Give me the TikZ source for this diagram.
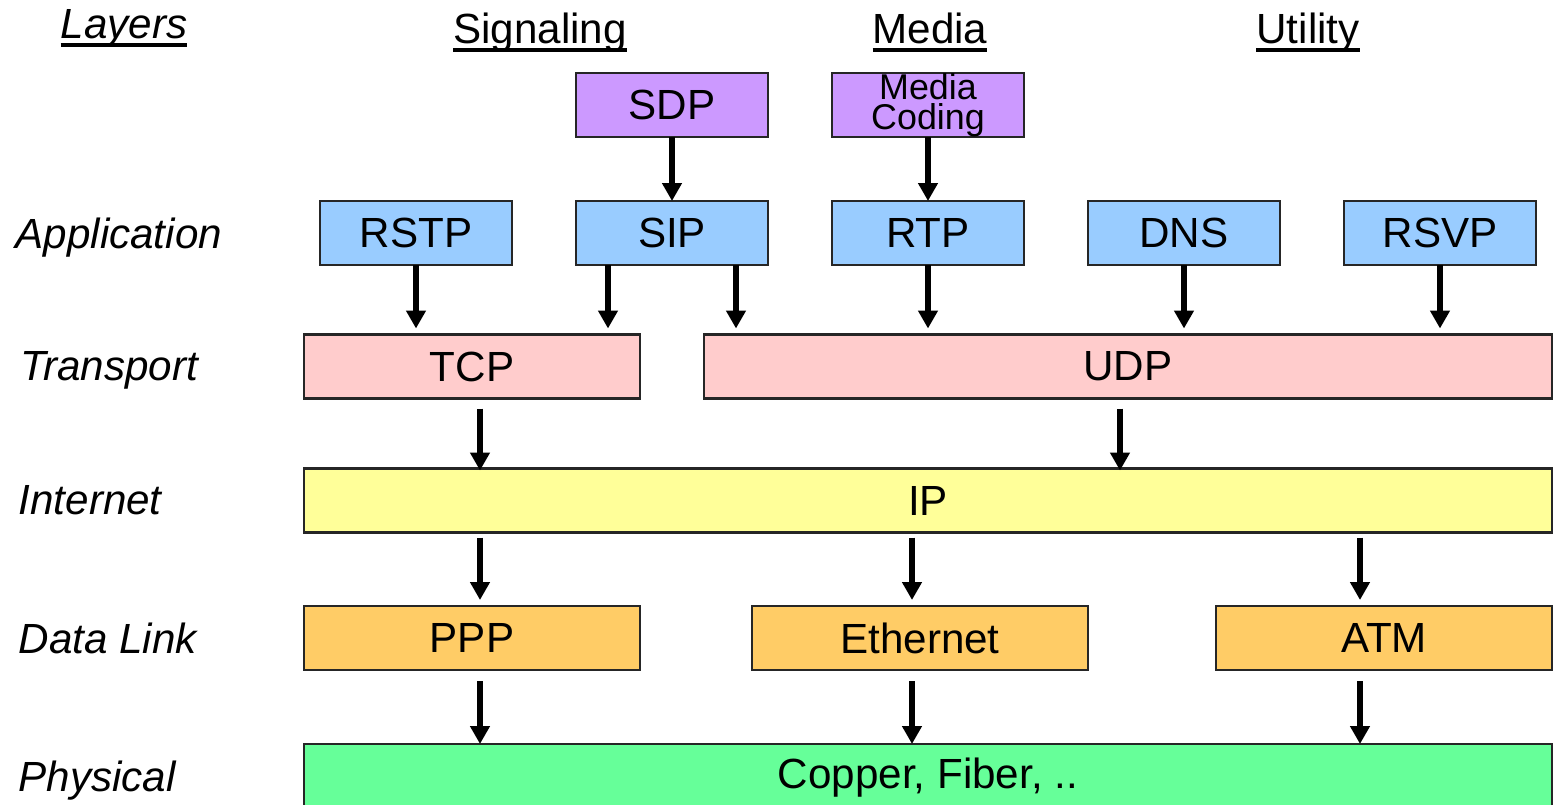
\documentclass[tikz,border=0pt]{standalone}
\usepackage{fontspec}
\setmainfont{Liberation Sans}
\usepackage{tikz}
\usetikzlibrary{positioning,arrows.meta}

\definecolor{codeviolet}{HTML}{CC99FF}
\definecolor{appblue}{HTML}{99CCFF}
\definecolor{transpink}{HTML}{FFCCCC}
\definecolor{ipyellow}{HTML}{FFFF99}
\definecolor{linkorange}{HTML}{FFCC66}
\definecolor{physgreen}{HTML}{66FF99}

\newcommand{\ulined}[1]{\setbox0\hbox{#1}\rlap{\rule[-2.6pt]{\wd0}{1.1pt}}\box0}

\begin{document}
\begin{tikzpicture}[
            node distance=0.64cm,
            proto node/.style={rectangle,draw=black!85,line width=0.6pt,minimum width=1.92cm,minimum height=0.64cm,inner sep=0pt,outer sep=0pt,font=\fontsize{12}{14}\selectfont},
            wide node/.style={proto node,minimum width=3.36cm},
            layer label/.style={anchor=base west,inner sep=0pt,font=\fontsize{12}{14}\selectfont\itshape},
            head label/.style={anchor=base,inner sep=0pt,font=\fontsize{12}{14}\selectfont},
            every edge/.style={draw,line width=1.6pt,-{Triangle[length=0.18cm,width=0.19cm]}},
        ]
            \useasboundingbox (0,0) rectangle (15.58,-8.05);

            \node[head label,font=\fontsize{12}{14}\selectfont\itshape] (layers_hd) at (1.24,-0.38) {\ulined{Layers}};
            \node[head label] (signaling_hd) at (5.40,-0.43) {\ulined{Signaling}};
            \node[head label] (media_hd) at (9.30,-0.43) {\ulined{Media}};
            \node[head label] (utility_hd) at (13.08,-0.43) {\ulined{Utility}};

            \node[layer label] (application_lbl) at (0.15,-2.48) {Application};
            \node[layer label] (transport_lbl) at (0.20,-3.80) {Transport};
            \node[layer label] (internet_lbl) at (0.18,-5.14) {Internet};
            \node[layer label] (datalink_lbl) at (0.18,-6.53) {Data Link};
            \node[layer label] (physical_lbl) at (0.18,-7.91) {Physical};

            \node[proto node, fill=appblue] (rstp) at (4.16,-2.33) {RSTP};
            \node[proto node, fill=appblue, right=of rstp] (sip) {SIP};
            \node[proto node, fill=appblue, right=of sip] (rtp) {RTP};
            \node[proto node, fill=appblue, right=of rtp] (dns) {DNS};
            \node[proto node, fill=appblue, right=of dns] (rsvp) {RSVP};
            \node[proto node, fill=codeviolet, above=of sip] (sdp) {SDP};
            \node[proto node, fill=codeviolet, above=of rtp, align=center, font=\fontsize{10.2}{8.6}\selectfont] (coding) {Media\\Coding};

            \node[wide node, fill=transpink] (tcp) at (4.72,-3.665) {TCP};
            \node[proto node, fill=transpink, minimum width=8.48cm] (udp) at (11.28,-3.665) {UDP};
            \node[proto node, fill=ipyellow, minimum width=12.48cm] (ip) at (9.28,-5.005) {IP};
            \node[wide node, fill=linkorange] (ppp) at (4.72,-6.38) {PPP};
            \node[wide node, fill=linkorange] (eth) at (9.20,-6.38) {Ethernet};
            \node[wide node, fill=linkorange] (atm) at (13.84,-6.38) {ATM};
            \node[proto node, fill=physgreen, minimum width=12.48cm, minimum height=0.68cm] (phys) at (9.28,-7.78) {Copper, Fiber, ..};

            \path (sdp) edge (sip);
            \path (coding) edge (rtp);
            \path[shorten >=0.06cm] (rstp.south) edge (rstp.south |- tcp.north)
                (sip.south -| 6.08,0) edge (tcp.north -| 6.08,0)
                (sip.south -| 7.36,0) edge (udp.north -| 7.36,0)
                (rtp.south) edge (rtp.south |- udp.north)
                (dns.south) edge (dns.south |- udp.north)
                (rsvp.south) edge (rsvp.south |- udp.north);
            \path[shorten <=0.10cm, shorten >=-0.02cm] (tcp.south -| 4.80,0) edge (ip.north -| 4.80,0)
                (udp.south -| 11.20,0) edge (ip.north -| 11.20,0);
            \path[shorten <=0.05cm, shorten >=0.06cm] (ip.south -| 4.80,0) edge (ppp.north -| 4.80,0)
                (ip.south -| 9.12,0) edge (eth.north -| 9.12,0)
                (ip.south -| 13.60,0) edge (atm.north -| 13.60,0);
            \path[shorten <=0.11cm] (ppp.south -| 4.80,0) edge (phys.north -| 4.80,0)
                (eth.south -| 9.12,0) edge (phys.north -| 9.12,0)
                (atm.south -| 13.60,0) edge (phys.north -| 13.60,0);
        \end{tikzpicture}
\end{document}
